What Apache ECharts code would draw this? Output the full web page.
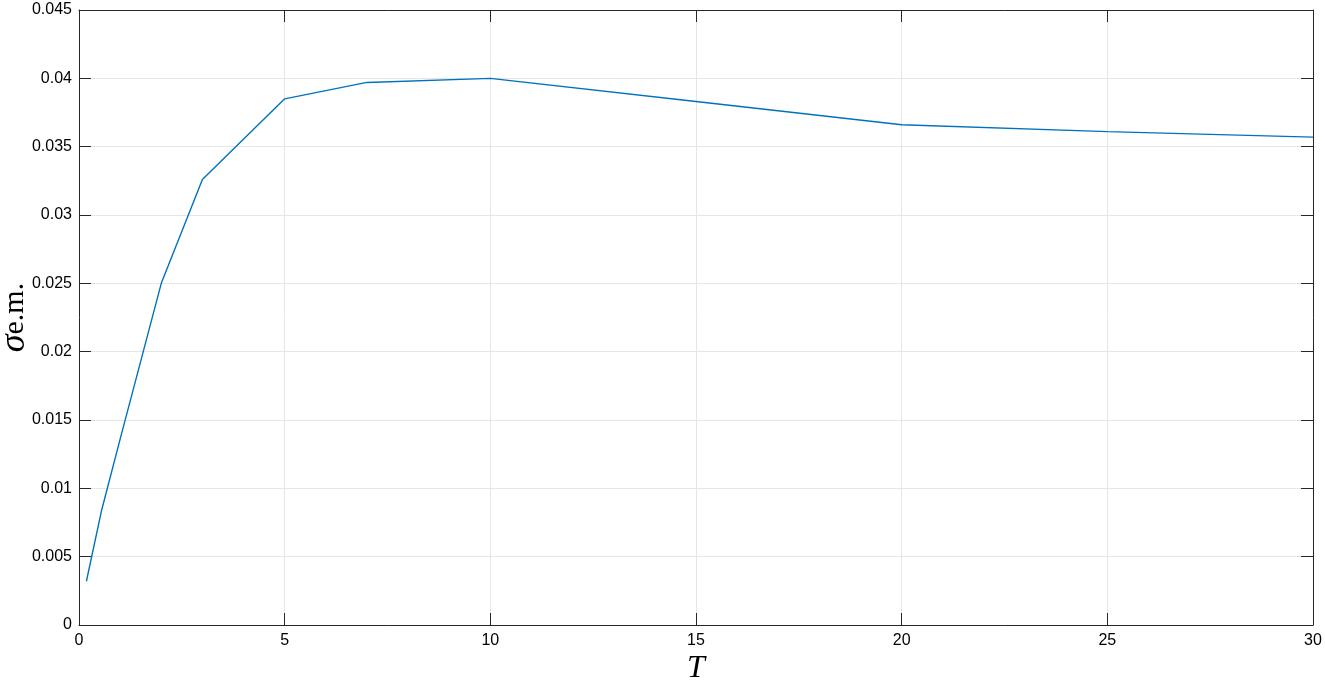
<!DOCTYPE html>
<html>
<head>
<meta charset="utf-8">
<style>
  html, body { margin: 0; padding: 0; background: #fff; }
  #main { width: 1325px; height: 684px; }
</style>
<script src="https://cdn.jsdelivr.net/npm/echarts@6/dist/echarts.min.js"></script>
</head>
<body>
<div id="main"></div>
<script>
// data
var tValues = [0.18, 0.55, 1, 2, 3, 5, 7, 10, 15, 20, 25, 30];
var sigmaValues = [0.0032, 0.0084, 0.0136, 0.0250, 0.0326, 0.0385, 0.0397, 0.0400, 0.0383, 0.0366, 0.0361, 0.0357];

var chart = echarts.init(document.getElementById('main'));

var points = tValues.map(function (t, i) { return [t, sigmaValues[i]]; });

var axisCol = '#262626';
var gridCol = '#e6e6e6';

var option = {
  animation: false,
  grid: { left: 79, right: 12, top: 10, bottom: 59, containLabel: false, outerBoundsMode: 'none' },
  xAxis: [
    {
      type: 'value',
      min: 0, max: 30, interval: 5,
      name: 'T',
      nameLocation: 'middle',
      nameGap: 28,
      nameMoveOverlap: false,
      nameTextStyle: { fontFamily: 'Liberation Serif', fontStyle: 'italic', fontSize: 32, color: '#000' },
      axisLine: { show: true, onZero: false, lineStyle: { color: axisCol, width: 1 } },
      axisTick: { show: true, inside: true, length: 12, lineStyle: { color: axisCol } },
      axisLabel: { color: '#000', fontFamily: 'Liberation Sans', fontSize: 16, margin: 8 },
      splitLine: { show: true, lineStyle: { color: gridCol, width: 1 } }
    },
    {
      type: 'value', position: 'top',
      min: 0, max: 30, interval: 5,
      axisLine: { show: true, onZero: false, lineStyle: { color: axisCol, width: 1 } },
      axisTick: { show: true, inside: true, length: 12, lineStyle: { color: axisCol } },
      axisLabel: { show: false },
      splitLine: { show: false }
    }
  ],
  yAxis: [
    {
      type: 'value',
      min: 0, max: 0.045, interval: 0.005,
      name: '{s|σ}{n|e.m.}',
      nameLocation: 'middle',
      nameGap: 46,
      nameMoveOverlap: false,
      nameTextStyle: {
        rich: {
          s: { fontFamily: 'Liberation Serif', fontStyle: 'italic', fontSize: 36, color: '#000' },
          n: { fontFamily: 'Liberation Serif', fontSize: 30, color: '#000' }
        }
      },
      axisLine: { show: true, onZero: false, lineStyle: { color: axisCol, width: 1 } },
      axisTick: { show: true, inside: true, length: 12, lineStyle: { color: axisCol } },
      axisLabel: { color: '#000', fontFamily: 'Liberation Sans', fontSize: 16, margin: 7 },
      splitLine: { show: true, lineStyle: { color: gridCol, width: 1 } }
    },
    {
      type: 'value', position: 'right',
      min: 0, max: 0.045, interval: 0.005,
      axisLine: { show: true, onZero: false, lineStyle: { color: axisCol, width: 1 } },
      axisTick: { show: true, inside: true, length: 12, lineStyle: { color: axisCol } },
      axisLabel: { show: false },
      splitLine: { show: false }
    }
  ],
  series: [{
    type: 'line',
    data: points,
    showSymbol: false,
    symbol: 'none',
    lineStyle: { color: '#0072BD', width: 1.4 },
    z: 5
  }]
};

chart.setOption(option);
</script>
</body>
</html>
